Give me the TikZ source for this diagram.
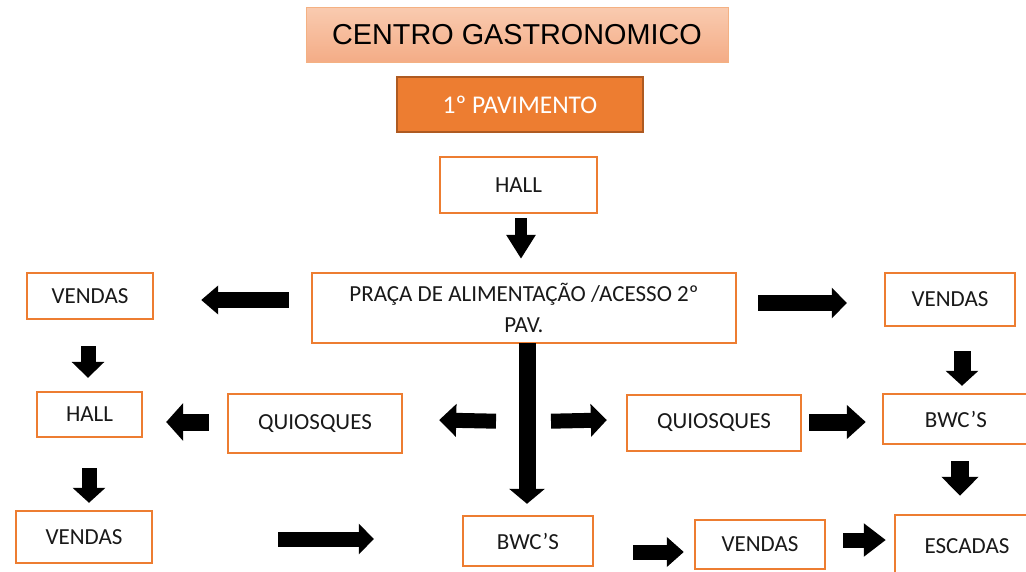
\documentclass[tikz,border=0pt]{standalone}
\usepackage{fontspec}
\usetikzlibrary{arrows.meta,calc}
\newfontfamily\calib{Carlito}
\newfontfamily\arialf{Liberation Sans}
\definecolor{borange}{HTML}{ED7D31}
\definecolor{dorange}{HTML}{AE5A21}
\definecolor{ttop}{HTML}{F9CBB0}
\definecolor{tbot}{HTML}{F4AC86}
\definecolor{tline}{HTML}{F4B183}
\tikzset{
  box/.style={draw=borange, line width=2.4pt, fill=white, inner sep=0pt,
    font=\calib\fontsize{23}{31}\selectfont, text=black!90, align=center},
  barrow/.style n args={3}{line width=#1, draw=black,
    -{Triangle[width=#2,length=#3]}}
}
\begin{document}
\begin{tikzpicture}[x=1pt,y=-1pt]
\useasboundingbox (0,0) rectangle (1026,571);
% titles
\node[draw=tline, line width=1pt, top color=ttop, bottom color=tbot, inner sep=0pt,
  minimum width=422pt, minimum height=55pt, font=\arialf\fontsize{28.8}{30}\selectfont]
  (title) at (517,34.5) {CENTRO GASTRONOMICO};
\node[draw=dorange, line width=2.4pt, fill=borange, inner sep=0pt, text=white,
  minimum width=246pt, minimum height=55pt, font=\calib\fontsize{25.5}{30}\selectfont]
  (pav) at (520,104.5) {1º PAVIMENTO};
% boxes
\node[box, minimum width=157pt, minimum height=56pt] (hallT) at (518.5,185) {HALL};
\node[box, minimum width=424pt, minimum height=70pt] (praca) at (524,308)
  {PRAÇA DE ALIMENTAÇÃO /ACESSO 2º\\PAV.};
\node[box, minimum width=126pt, minimum height=46pt] (vendasL) at (90,296) {VENDAS};
\node[box, minimum width=105pt, minimum height=45pt] (hallL) at (89.5,414.5) {HALL};
\node[box, minimum width=174pt, minimum height=59pt] (quiosL) at (315,423.5) {QUIOSQUES};
\node[box, minimum width=174pt, minimum height=56pt] (quiosR) at (714,423) {QUIOSQUES};
\node[box, minimum width=130pt, minimum height=53pt] (vendasR) at (950,299.5) {VENDAS};
\node[box, minimum width=146pt, minimum height=50pt] (bwcR) at (956,419) {BWC’S};
\node[box, minimum width=144pt, minimum height=63pt] (escadas) at (967,546.5) {ESCADAS};
\node[box, minimum width=130pt, minimum height=49pt] (vendasB) at (760,544.5) {VENDAS};
\node[box, minimum width=130pt, minimum height=50pt] (bwcB) at (528,541) {BWC’S};
\node[box, minimum width=136pt, minimum height=52pt] (vendasBL) at (84,537) {VENDAS};
% block arrows
\draw[barrow={12pt}{28pt}{24pt}] ($(hallT.south)+(2.5,4)$) -- ($(praca.north)+(-3,-13)$);
\draw[barrow={16pt}{28pt}{17pt}] ($(praca.west)+(-22,-8)$) -- ($(vendasL.east)+(47,4)$);
\draw[barrow={15pt}{32pt}{16pt}] ($(vendasL.south)+(-2,26)$) -- ($(hallL.north)+(-1.5,-13)$);
\draw[barrow={17pt}{37pt}{17pt}] ($(quiosL.west)+(-18,-1.5)$) -- ($(hallL.east)+(23,7.5)$);
\draw[barrow={15pt}{32pt}{15pt}] ($(hallL.south)+(-0.5,30)$) -- ($(vendasBL.north)+(5,-7)$);
\draw[barrow={15pt}{30pt}{15pt}] ($(vendasBL.east)+(125,2)$) -- ($(bwcB.west)+(-88,-2)$);
\draw[barrow={17pt}{35pt}{15pt}] ($(praca.south)+(3,-1)$) -- ($(bwcB.north)+(-1,-11)$);
\draw[barrow={15pt}{32pt}{17pt}] ($(praca.south)+(-28,77)$) -- ($(quiosL.east)+(36,-3.5)$);
\draw[barrow={15pt}{32pt}{16pt}] ($(praca.south)+(27,77)$) -- ($(quiosR.west)+(-19,-3)$);
\draw[barrow={17pt}{33pt}{19pt}] ($(quiosR.east)+(7,-1)$) -- ($(bwcR.west)+(-16,3)$);
\draw[barrow={16pt}{30pt}{15pt}] ($(praca.east)+(21,-5)$) -- ($(vendasR.west)+(-37,3.5)$);
\draw[barrow={17pt}{32pt}{15pt}] ($(vendasR.south)+(12,24)$) -- ($(bwcR.north)+(6,-7)$);
\draw[barrow={18pt}{36pt}{19pt}] ($(bwcR.south)+(4,16)$) -- ($(escadas.north)+(-7,-18)$);
\draw[barrow={15pt}{32pt}{22pt}] ($(vendasB.east)+(17,-4.5)$) -- ($(escadas.west)+(-8,-6.5)$);
\draw[barrow={15pt}{29pt}{17pt}] ($(bwcB.east)+(39,11)$) -- ($(vendasB.west)+(-10,7.5)$);
\end{tikzpicture}
\end{document}
